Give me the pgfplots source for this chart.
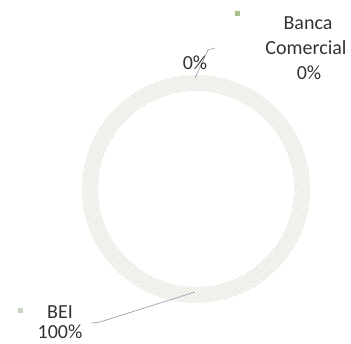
\documentclass[border=0pt]{standalone}
\usepackage{fontspec}
\setmainfont{Carlito}
\usepackage{pgfplots}
\pgfplotsset{compat=1.18}
\usepackage{pgfplotstable}
\usetikzlibrary{patterns.meta}
\definecolor{txt}{HTML}{333333}
\definecolor{ringbg}{HTML}{F8F8F5}
\definecolor{hatch}{HTML}{E0E2D8}
\definecolor{leader}{HTML}{98A4B0}
\definecolor{sqA}{HTML}{A9C08C}
\definecolor{sqB}{HTML}{C8D2C2}
\pgfplotstableread{
label value
BEI 100
Banca 0
}\shares
\begin{document}
\begin{tikzpicture}
\useasboundingbox (0,0) rectangle (351pt,344pt);
\begin{axis}[x=1pt,y=1pt,xmin=0,xmax=351,ymin=0,ymax=344,hide axis,clip=false,
  anchor=origin, at={(0,0)}]
\pgfplotstablegetelem{0}{value}\of\shares \let\vA\pgfplotsretval
\pgfmathsetmacro\angA{90-3.6*\vA}
\coordinate (c) at (axis cs:196,155);
\fill[ringbg] ([shift={(c)}]90:114pt) arc[start angle=90,end angle=\angA,radius=114pt]
   -- ([shift={(c)}]\angA:98pt) arc[start angle=\angA,end angle=90,radius=98pt] -- cycle;
\fill[pattern={Lines[angle=45,distance=2.4pt,line width=0.6pt]},pattern color=hatch]
   ([shift={(c)}]90:114pt) arc[start angle=90,end angle=\angA,radius=114pt]
   -- ([shift={(c)}]\angA:98pt) arc[start angle=\angA,end angle=90,radius=98pt] -- cycle;
\addplot[leader, line width=0.7pt, no marks] coordinates {(195,266) (208,294) (215,296)};
\addplot[leader, line width=0.7pt, no marks] coordinates {(195,52) (100,22) (92,21)};
\addplot[only marks, mark=square*, mark size=2.2pt, sqA] coordinates {(237,331)};
\addplot[only marks, mark=square*, mark size=2.2pt, sqB] coordinates {(20,34)};
\node[txt, anchor=base, font=\fontsize{20}{24}\selectfont] at (axis cs:195,274) {0\%};
\node[txt, anchor=base, font=\fontsize{20}{24}\selectfont] at (axis cs:308,314) {Banca};
\node[txt, anchor=base, font=\fontsize{20}{24}\selectfont] at (axis cs:306,289) {Comercial};
\node[txt, anchor=base, font=\fontsize{20}{24}\selectfont] at (axis cs:309,264) {0\%};
\node[txt, anchor=base, font=\fontsize{20}{24}\selectfont] at (axis cs:60,25) {BEI};
\node[txt, anchor=base, font=\fontsize{20}{24}\selectfont] at (axis cs:60,5) {100\%};
\end{axis}
\end{tikzpicture}
\end{document}
